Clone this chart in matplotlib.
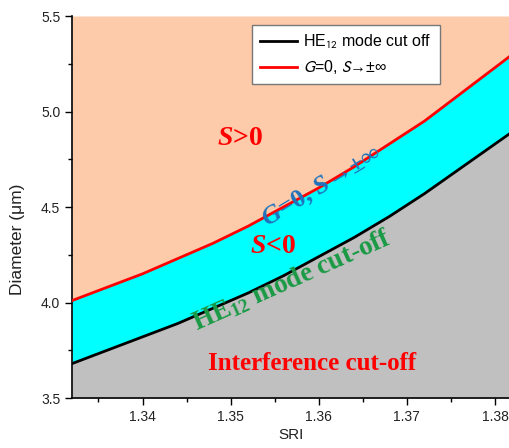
import matplotlib
matplotlib.use("Agg")
import matplotlib.pyplot as plt
from matplotlib.font_manager import FontProperties
from matplotlib.ticker import MultipleLocator
import numpy as np

plt.rcParams['font.family'] = ['Liberation Sans', 'DejaVu Sans']
plt.rcParams['mathtext.fontset'] = 'custom'
plt.rcParams['mathtext.it'] = 'Liberation Serif:bold:italic'
plt.rcParams['mathtext.rm'] = 'Liberation Serif:bold'
plt.rcParams['mathtext.bf'] = 'Liberation Serif:bold'

# Data
sri = [1.332, 1.334, 1.336, 1.338, 1.340, 1.342, 1.344, 1.346, 1.348, 1.350, 1.352, 1.354, 1.356,
       1.358, 1.360, 1.362, 1.364, 1.366, 1.368, 1.370, 1.372, 1.374, 1.376, 1.378, 1.380, 1.382]
g0_line = [4.01, 4.045, 4.08, 4.115, 4.15, 4.19, 4.23, 4.27, 4.31, 4.355, 4.40, 4.45, 4.50,
           4.55, 4.60, 4.655, 4.71, 4.77, 4.83, 4.89, 4.95, 5.02, 5.09, 5.16, 5.23, 5.30]
he12_cutoff = [3.68, 3.715, 3.75, 3.785, 3.82, 3.855, 3.89, 3.93, 3.97, 4.01, 4.05, 4.095, 4.14,
               4.19, 4.24, 4.29, 4.34, 4.395, 4.45, 4.51, 4.57, 4.635, 4.70, 4.765, 4.83, 4.895]

x_ticks = [1.34, 1.35, 1.36, 1.37, 1.38]
y_ticks = [3.5, 4.0, 4.5, 5.0, 5.5]
xlim = (1.332, 1.3817)
ylim = (3.5, 5.5)

peach = '#FDCBA9'
cyan = '#00FFFF'
gray = '#C0C0C0'

fig = plt.figure(figsize=(5.10, 4.48), dpi=100)
ax = fig.add_axes([72/510, 1-398/448, 1-72/510, (398-16)/448])

sri_a = np.array(sri)
ax.fill_between(sri_a, g0_line, ylim[1], color=peach, lw=0, zorder=1)
ax.fill_between(sri_a, he12_cutoff, g0_line, color=cyan, lw=0, zorder=1)
ax.fill_between(sri_a, ylim[0], he12_cutoff, color=gray, lw=0, zorder=1)
ax.plot(sri, he12_cutoff, color='black', lw=2, label='HE$_{12}$ mode cut off', zorder=3,
        solid_joinstyle='round')
ax.plot(sri, g0_line, color='#FF0000', lw=2, label='$G$=0, $S$→±∞', zorder=3,
        solid_joinstyle='round')

ax.set_xlim(*xlim)
ax.set_ylim(*ylim)
ax.set_xticks(x_ticks)
ax.set_xticklabels([f'{v:.2f}' for v in x_ticks])
ax.set_yticks(y_ticks)
ax.set_yticklabels([f'{v:.1f}' for v in y_ticks])
ax.xaxis.set_minor_locator(MultipleLocator(0.005))
ax.yaxis.set_minor_locator(MultipleLocator(0.25))
ax.tick_params(which='major', direction='out', length=5, width=1, labelsize=10, labelcolor='#222222')
ax.tick_params(which='minor', direction='out', length=3, width=1)
for s in ['top', 'right']:
    ax.spines[s].set_visible(False)
for s in ['left', 'bottom']:
    ax.spines[s].set_linewidth(1.2)
ax.set_xlabel('SRI', fontsize=11, labelpad=3, color='#222222')
ax.set_ylabel('Diameter (\u03bcm)', fontsize=12.5, color='#222222')
ax.yaxis.set_label_coords(-0.108, (398-239)/382)

leg_prop = FontProperties(family='Liberation Sans', size=11.5, math_fontfamily='stixsans')
leg = ax.legend(loc='upper left', bbox_to_anchor=((252-72)/438, 1-(25-16)/382), prop=leg_prop,
                frameon=True, fancybox=False, edgecolor='#777777', framealpha=1,
                handlelength=2.3, handletextpad=0.4, borderpad=0.5, labelspacing=0.45, borderaxespad=0)
leg.get_frame().set_linewidth(1.0)

serif = ['Liberation Serif', 'DejaVu Serif']
ax.text(1.35106, 4.861, '$S$>0', color='#FF0000', fontsize=20, fontweight='bold', family=serif,
        ha='center', va='center', zorder=5)
ax.text(1.35481, 4.291, '$S$<0', color='#FF0000', fontsize=20, fontweight='bold', family=serif,
        ha='center', va='center', zorder=5)
ax.text(1.36036, 4.605, '$G$=0, $S$→±∞', color='#1E73BE', fontsize=19, fontweight='bold', family=serif,
        ha='center', va='center', rotation=31, rotation_mode='anchor', zorder=5)
ax.text(1.35697, 4.118, 'HE$_{12}$ mode cut-off', color='#1A9A46', fontsize=19.5, fontweight='bold', family=serif,
        ha='center', va='center', rotation=24, rotation_mode='anchor', zorder=5)
ax.text(1.35924, 3.683, 'Interference cut-off', color='#FF0000', fontsize=18, fontweight='bold', family=serif,
        ha='center', va='center', zorder=5)

fig.savefig('out.png', dpi=100)
